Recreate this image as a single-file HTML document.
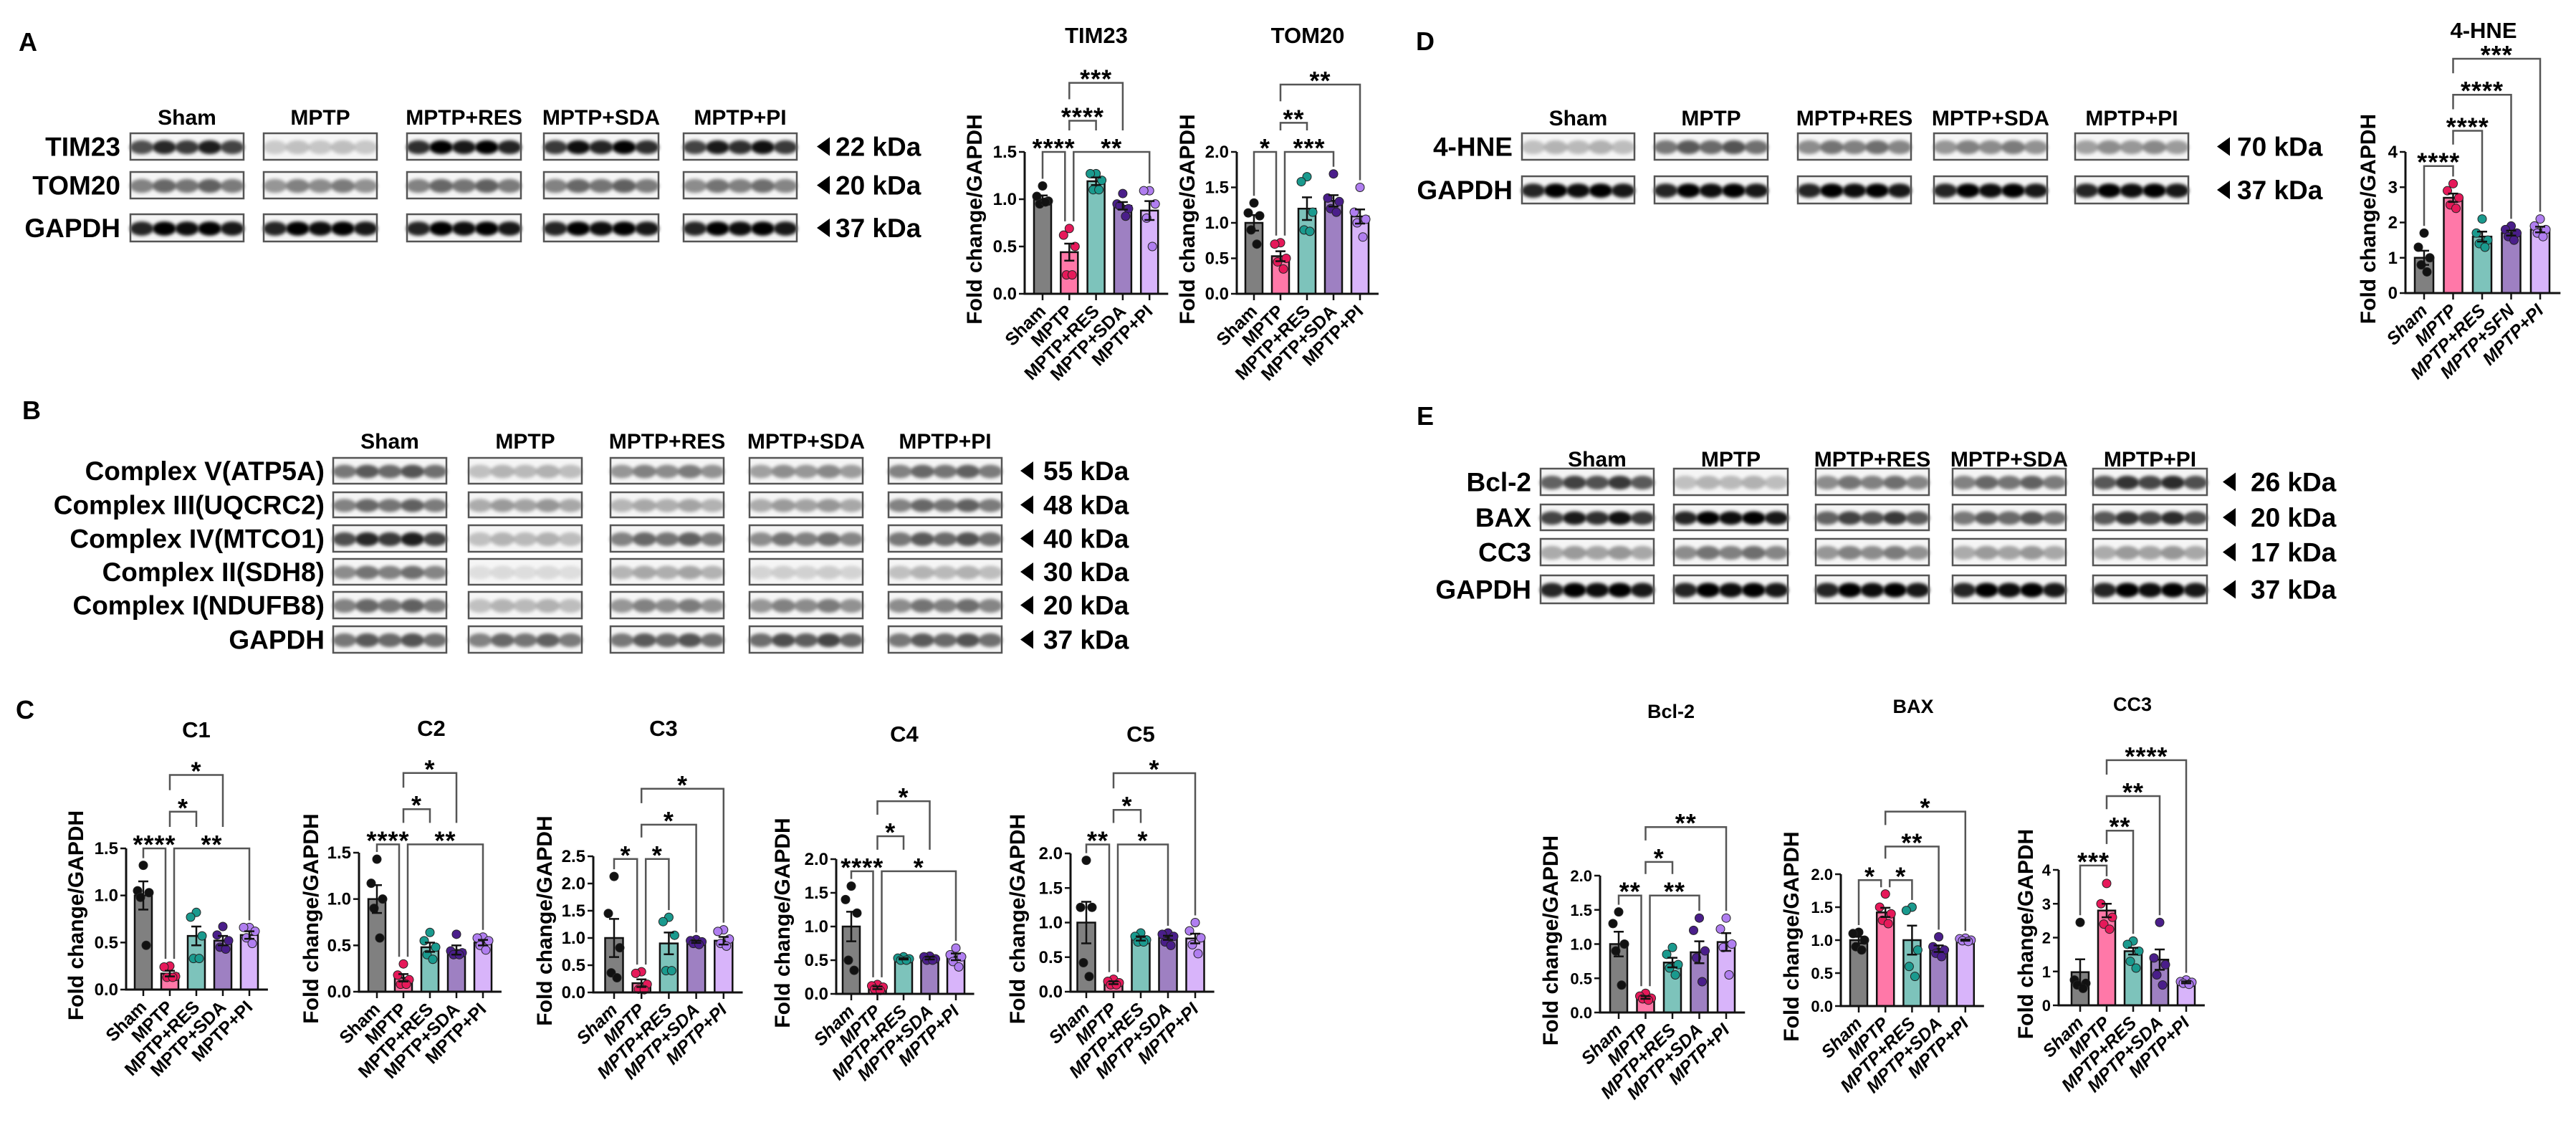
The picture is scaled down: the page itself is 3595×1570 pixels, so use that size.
<!DOCTYPE html>
<html><head><meta charset="utf-8">
<style>
html,body{margin:0;padding:0;background:#fff;}
svg{display:block;font-family:"Liberation Sans",Arial,sans-serif;}
</style></head>
<body>
<svg id="fig" xmlns="http://www.w3.org/2000/svg" width="3595" height="1570" viewBox="0 0 3595 1570">
<defs>
<filter id="blur" x="-50%" y="-50%" width="200%" height="200%"><feGaussianBlur stdDeviation="2.5"/></filter>
</defs>
<g id="layer"></g>
</svg>
<script>
// ===== Chart data =====
const groups = ['Sham','MPTP','MPTP+RES','MPTP+SDA','MPTP+PI'];
const groupsHNE = ['Sham','MPTP','MPTP+RES','MPTP+SFN','MPTP+PI'];

const tim23Means = [1.0,0.44,1.19,0.93,0.88];
const tim23Sems = [0.04,0.09,0.04,0.04,0.1];
const tim23Points = [[1.14,1.03,0.98,0.95,0.97],[0.69,0.62,0.5,0.2,0.2],[1.27,1.27,1.2,1.1,1.1],[1.06,0.95,0.9,0.93,0.82],[1.09,1.09,0.95,0.8,0.5]];
const tim23Ticks = ['0.0','0.5','1.0','1.5'];
const tim23Brackets = [[0,1,1.5,'****'],[1,4,1.5,'**'],[1,2,1.83,'****'],[1,3,2.23,'***']];

const tom20Means = [1.0,0.53,1.2,1.31,1.09];
const tom20Sems = [0.11,0.07,0.16,0.08,0.1];
const tom20Points = [[1.28,1.14,1.1,0.9,0.7],[0.72,0.7,0.5,0.45,0.35],[1.65,1.58,1.15,0.9,0.88],[1.69,1.35,1.3,1.2,1.15],[1.5,1.15,1.05,1.0,0.8]];
const tom20Ticks = ['0.0','0.5','1.0','1.5','2.0'];
const tom20Brackets = [[0,1,2.0,'*'],[1,3,2.0,'***'],[1,2,2.41,'**'],[1,4,2.95,'**']];

const hneMeans = [1.0,2.7,1.6,1.7,1.8];
const hneSems = [0.2,0.12,0.14,0.07,0.08];
const hnePoints = [[1.7,1.3,1.0,0.8,0.6],[3.1,2.9,2.7,2.5,2.4],[2.1,1.7,1.5,1.4,1.3],[1.9,1.8,1.7,1.6,1.5],[2.1,1.9,1.8,1.7,1.6]];
const hneTicks = ['0','1','2','3','4'];
const hneBrackets = [[0,1,3.6,'****'],[1,2,4.6,'****'],[1,3,5.62,'****'],[1,4,6.64,'***']];

const c1Means = [1.0,0.17,0.57,0.52,0.58];
const c1Sems = [0.15,0.03,0.1,0.05,0.04];
const c1Points = [[1.32,1.05,1.03,0.98,0.47],[0.25,0.24,0.14,0.13,0.13],[0.82,0.77,0.57,0.33,0.33],[0.67,0.58,0.52,0.45,0.43],[0.66,0.66,0.62,0.55,0.49]];
const c1Ticks = ['0.0','0.5','1.0','1.5'];
const c1Brackets = [[0,1,1.5,'****'],[1,4,1.5,'**'],[1,2,1.89,'*'],[1,3,2.28,'*']];

const c2Means = [1.0,0.15,0.48,0.45,0.53];
const c2Sems = [0.15,0.04,0.05,0.05,0.03];
const c2Points = [[1.43,1.17,1.0,0.9,0.58],[0.3,0.18,0.13,0.08,0.08],[0.64,0.55,0.48,0.4,0.35],[0.62,0.44,0.42,0.4,0.4],[0.59,0.58,0.55,0.5,0.45]];
const c2Ticks = ['0.0','0.5','1.0','1.5'];
const c2Brackets = [[0,1,1.59,'****'],[1,4,1.59,'**'],[1,2,1.97,'*'],[1,3,2.36,'*']];

const c3Means = [1.0,0.17,0.9,0.93,0.95];
const c3Sems = [0.35,0.07,0.2,0.02,0.07];
const c3Points = [[2.13,1.45,0.82,0.36,0.27],[0.38,0.35,0.15,0.06,0.05],[1.38,1.3,1.05,0.4,0.4],[0.97,0.95,0.93,0.9,0.88],[1.15,1.12,0.98,0.9,0.85]];
const c3Ticks = ['0.0','0.5','1.0','1.5','2.0','2.5'];
const c3Brackets = [[0,1,2.45,'*'],[1,2,2.45,'*'],[1,3,3.08,'*'],[1,4,3.74,'*']];

const c4Means = [1.0,0.09,0.52,0.53,0.55];
const c4Sems = [0.22,0.02,0.01,0.02,0.05];
const c4Points = [[1.6,1.4,1.2,0.5,0.35],[0.14,0.12,0.1,0.07,0.05],[0.55,0.53,0.52,0.5,0.5],[0.56,0.55,0.52,0.5,0.5],[0.68,0.58,0.55,0.48,0.4]];
const c4Ticks = ['0.0','0.5','1.0','1.5','2.0'];
const c4Brackets = [[0,1,1.82,'****'],[1,4,1.82,'*'],[1,2,2.34,'*'],[1,3,2.86,'*']];

const c5Means = [1.0,0.13,0.77,0.78,0.77];
const c5Sems = [0.3,0.02,0.03,0.03,0.07];
const c5Points = [[1.9,1.22,1.22,0.42,0.22],[0.18,0.15,0.13,0.1,0.1],[0.85,0.8,0.75,0.72,0.72],[0.85,0.83,0.8,0.72,0.67],[1.0,0.88,0.78,0.68,0.55]];
const c5Ticks = ['0.0','0.5','1.0','1.5','2.0'];
const c5Brackets = [[0,1,2.13,'**'],[1,3,2.13,'*'],[1,2,2.63,'*'],[1,4,3.16,'*']];

const bcl2Means = [1.0,0.22,0.73,0.88,1.03];
const bcl2Sems = [0.18,0.02,0.07,0.16,0.13];
const bcl2Points = [[1.47,1.3,1.0,0.9,0.4],[0.28,0.24,0.21,0.2,0.18],[0.95,0.85,0.7,0.65,0.55],[1.38,1.2,0.9,0.8,0.45],[1.38,1.22,1.0,0.95,0.55]];
const bcl2Ticks = ['0.0','0.5','1.0','1.5','2.0'];
const bcl2Brackets = [[0,1,1.71,'**'],[1,3,1.71,'**'],[1,2,2.2,'*'],[1,4,2.71,'**']];

const baxMeans = [1.0,1.42,1.0,0.87,1.0];
const baxSems = [0.05,0.07,0.22,0.05,0.01];
const baxPoints = [[1.12,1.1,1.0,0.9,0.85],[1.7,1.5,1.4,1.3,1.25],[1.5,1.45,0.85,0.6,0.45],[1.05,0.9,0.85,0.8,0.75],[1.03,1.02,1.0,0.99,0.98]];
const baxTicks = ['0.0','0.5','1.0','1.5','2.0'];
const baxBrackets = [[0,1,1.91,'*'],[1,2,1.91,'*'],[1,3,2.42,'**'],[1,4,2.95,'*']];

const cc3Means = [0.98,2.8,1.6,1.35,0.68];
const cc3Sems = [0.38,0.2,0.1,0.3,0.03];
const cc3Points = [[2.45,0.75,0.65,0.6,0.5],[3.6,3.0,2.6,2.4,2.25],[1.9,1.8,1.6,1.3,1.1],[2.45,1.4,1.2,0.9,0.6],[0.75,0.7,0.68,0.65,0.62]];
const cc3Ticks = ['0','1','2','3','4'];
const cc3Brackets = [[0,1,4.13,'***'],[1,2,5.16,'**'],[1,3,6.18,'**'],[1,4,7.24,'****']];

// Blot band intensities (per group)
const blotA_TIM23 = [0.8,0.2,0.95,0.9,0.85];
const blotA_TOM20 = [0.55,0.45,0.55,0.55,0.5];
const blotA_GAPDH = [1,1,1,1,1];
const blotD_HNE = [0.25,0.6,0.5,0.45,0.4];
const blotD_GAPDH = [1,1,1,1,1];
const blotB_V = [0.6,0.25,0.45,0.4,0.55];
const blotB_III = [0.55,0.35,0.3,0.35,0.55];
const blotB_IV = [0.8,0.25,0.55,0.5,0.6];
const blotB_II = [0.5,0.1,0.3,0.15,0.25];
const blotB_I = [0.55,0.25,0.45,0.45,0.5];
const blotB_GAPDH = [0.6,0.55,0.6,0.65,0.6];
const blotE_BCL2 = [0.7,0.25,0.5,0.55,0.75];
const blotE_BAX = [0.85,1,0.7,0.6,0.75];
const blotE_CC3 = [0.35,0.5,0.45,0.35,0.35];
const blotE_GAPDH = [1,1,1,1,1];

// ===== Rendering =====
const NS = 'http://www.w3.org/2000/svg';
const root = document.getElementById('layer');
const barFill = ['#808080','#ff78a8','#7dc3bb','#9e80c2','#d8b4fa'];
const ptFill = ['#111111','#e6195a','#1a9a8e','#4a1e8a','#b07ef0'];
const jitter = [0,-8,8,-4,4];

function mk(tag, attrs, parent){
  const e = document.createElementNS(NS, tag);
  for (const k in attrs) e.setAttribute(k, attrs[k]);
  (parent||root).appendChild(e);
  return e;
}
function txt(parent, x, y, s, size, anchor, extra){
  const t = mk('text', Object.assign({x:x, y:y, 'font-size':size, 'font-weight':'bold', 'text-anchor':anchor||'start', fill:'#000'}, extra||{}), parent);
  t.textContent = s;
  return t;
}

function chart(name, L, cats, means, sems, pts, ticks, brackets, title){
  const g = mk('g', {});
  
  
  const ymax = parseFloat(ticks[ticks.length-1]);
  const y = v => L.y0 - v / ymax * (L.y0 - L.yTop);
  const x = i => L.bx0 + i * L.dx;
  const tt = txt(g, L.tx, L.ty + 10, title, L.tfs || 31, 'middle');
  
  
  means.forEach((m, i) => {
    const b = mk('rect', {x: x(i) - L.bw/2, y: y(m), width: L.bw, height: L.y0 - y(m), fill: barFill[i], stroke: '#111', 'stroke-width': 2.5}, g);
    
    
  });
  pts.forEach((arr, i) => {
    arr.forEach((v, k) => {
      const c = mk('circle', {cx: x(i) + jitter[k % 5], cy: y(v), r: 6, fill: ptFill[i], stroke: '#222', 'stroke-width': 1}, g);
      
      
    });
  });
  means.forEach((m, i) => {
    const e = mk('path', {d: `M${x(i)},${y(m - sems[i])}V${y(m + sems[i])}M${x(i)-7},${y(m + sems[i])}H${x(i)+7}M${x(i)-7},${y(m - sems[i])}H${x(i)+7}`, stroke: '#111', 'stroke-width': 2.5, fill: 'none'}, g);
    
    
  });
  const xEnd = x(cats.length - 1) + L.dx * 0.7;
  const ax = mk('path', {d: `M${L.ax},${L.yTop}V${L.y0}H${xEnd}`, stroke: '#111', 'stroke-width': 3, fill: 'none'}, g);
  
  
  ticks.forEach(t => {
    const v = parseFloat(t);
    mk('line', {x1: L.ax - 8, x2: L.ax, y1: y(v), y2: y(v), stroke: '#111', 'stroke-width': 2.5}, g);
    const tl = txt(g, L.ax - 11, y(v) + 8, t, L.tkfs || 24, 'end');
    
    
  });
  cats.forEach((c, i) => {
    mk('line', {x1: x(i), x2: x(i), y1: L.y0, y2: L.y0 + 9, stroke: '#111', 'stroke-width': 2.5}, g);
    const xl = txt(g, x(i) + 6, L.y0 + 26, c, L.xfs || 25, 'end', {transform: `rotate(-45 ${x(i) + 6} ${L.y0 + 26})`, 'font-style': L.italic ? 'italic' : 'normal'});
    
    
  });
  const ym = (L.y0 + L.yTop) / 2 - 5;
  const yt = txt(g, L.ytx, ym, 'Fold change/GAPDH', L.ytfs || 30, 'middle', {transform: `rotate(-90 ${L.ytx} ${ym})`, dy: '10'});
  
  
  const topOf = i => Math.min(y(Math.max(...pts[i])), y(means[i] + sems[i])) - 10;
  brackets.forEach((br, bi) => {
    const [a, b, lev, lab] = br;
    const by = y(lev);
    let xa = x(a), xb = x(b);
    brackets.forEach((o, oi) => { if (oi !== bi && Math.abs(o[2] - lev) < 0.02) { if (o[1] === a) xa += 6; if (o[0] === b) xb -= 6; } });
    const legEnd = gi => {
      let end = topOf(gi);
      brackets.forEach((o, oi) => {
        if (oi !== bi && o[2] < lev && o[0] <= gi && gi <= o[1]) end = Math.min(end, y(o[2]) - 30);
      });
      return Math.max(end, by + 10);
    };
    const p = mk('path', {d: `M${xa},${legEnd(a)}V${by}H${xb}V${legEnd(b)}`, stroke: '#555', 'stroke-width': 2.5, fill: 'none'}, g);
    
    
    const s = txt(g, (xa + xb) / 2, by + 7, lab, 36, 'middle', {'letter-spacing': '1'});
    
    
  });
}

const laneVar = [0.85, 1.05, 0.95, 1.1, 0.9];
function blot(name, boxes, rows, groupY, labelRight, arrowX, kdaX, gnames){
  const g = mk('g', {});
  
  
  boxes.forEach((bx, i) => {
    const gl = txt(g, (bx[0] + bx[1]) / 2, groupY + 11, gnames[i], 30, 'middle');
    
    
  });
  rows.forEach(r => {
    const [lab, y0, y1, inten, kda] = r;
    const cy = (y0 + y1) / 2;
    const rl = txt(g, labelRight, cy + 13, lab, 37, 'end');
    
    
    boxes.forEach((bx, i) => {
      const w = bx[1] - bx[0], h = y1 - y0;
      mk('rect', {x: bx[0], y: y0, width: w, height: h, fill: '#f5f5f5'}, g);
      for (let j = 0; j < 5; j++) {
        const lx = bx[0] + (j + 0.5) * w / 5;
        const band = mk('ellipse', {cx: lx, cy: cy + 1, rx: w / 9.5, ry: h * 0.26, fill: '#000', opacity: Math.min(1, inten[i] * laneVar[j]), filter: 'url(#blur)'}, g);
        
        
      }
      const fr = mk('rect', {x: bx[0], y: y0, width: w, height: h, fill: 'none', stroke: '#555', 'stroke-width': 2.5}, g);
      
      
    });
    const ar = mk('path', {d: `M${arrowX},${cy}L${arrowX + 18},${cy - 13}V${cy + 13}Z`, fill: '#000'}, g);
    
    
    const kt = txt(g, kdaX, cy + 13, kda, 37, 'start');
    
    
  });
}

[['A',39,58],['B',44,572],['C',35,990],['D',1989,57],['E',1989,580]].forEach(p => {
  const t = txt(root, p[1], p[2] + 13, p[0], 36, 'middle');
  
  
});

blot('panel-a', [[182,340],[368,526],[568,727],[759,919],[954,1112]],
  [['TIM23',186,223,blotA_TIM23,'22 kDa'],['TOM20',240,277,blotA_TOM20,'20 kDa'],['GAPDH',299,337,blotA_GAPDH,'37 kDa']],
  163, 168, 1140, 1166, groups);
blot('panel-d', [[2124,2281],[2309,2467],[2509,2667],[2699,2857],[2896,3054]],
  [['4-HNE',186,223,blotD_HNE,'70 kDa'],['GAPDH',246,284,blotD_GAPDH,'37 kDa']],
  164, 2111, 3094, 3122, groups);
blot('panel-b', [[465,623],[654,812],[852,1010],[1046,1204],[1240,1398]],
  [['Complex V(ATP5A)',639,675,blotB_V,'55 kDa'],['Complex III(UQCRC2)',687,722,blotB_III,'48 kDa'],['Complex IV(MTCO1)',733,770,blotB_IV,'40 kDa'],['Complex II(SDH8)',780,816,blotB_II,'30 kDa'],['Complex I(NDUFB8)',826,863,blotB_I,'20 kDa'],['GAPDH',874,911,blotB_GAPDH,'37 kDa']],
  615, 453, 1424, 1456, groups);
blot('panel-e', [[2150,2308],[2336,2495],[2534,2692],[2725,2883],[2921,3080]],
  [['Bcl-2',654,691,blotE_BCL2,'26 kDa'],['BAX',704,740,blotE_BAX,'20 kDa'],['CC3',752,789,blotE_CC3,'17 kDa'],['GAPDH',803,842,blotE_GAPDH,'37 kDa']],
  640, 2137, 3102, 3141, groups);

chart('tim23', {ax:1430,y0:410,yTop:212,bx0:1455,dx:37.3,bw:24,tx:1530,ty:50,ytx:1360}, groups, tim23Means, tim23Sems, tim23Points, tim23Ticks, tim23Brackets, 'TIM23');
chart('tom20', {ax:1726,y0:410,yTop:212,bx0:1750,dx:37,bw:24,tx:1825,ty:50,ytx:1657}, groups, tom20Means, tom20Sems, tom20Points, tom20Ticks, tom20Brackets, 'TOM20');
chart('hne', {ax:3357,y0:409,yTop:212,bx0:3383,dx:40.5,bw:26,tx:3466,ty:43,ytx:3305,italic:true}, groupsHNE, hneMeans, hneSems, hnePoints, hneTicks, hneBrackets, '4-HNE');
chart('c1', {ax:176,y0:1381,yTop:1184,bx0:200,dx:37,bw:24,tx:274,ty:1019,ytx:106}, groups, c1Means, c1Sems, c1Points, c1Ticks, c1Brackets, 'C1');
chart('c2', {ax:501,y0:1384,yTop:1190,bx0:526,dx:37,bw:24,tx:602,ty:1017,ytx:434}, groups, c2Means, c2Sems, c2Points, c2Ticks, c2Brackets, 'C2');
chart('c3', {ax:828,y0:1385,yTop:1195,bx0:857,dx:38.2,bw:25,tx:926,ty:1017,ytx:760,italic:true}, groups, c3Means, c3Sems, c3Points, c3Ticks, c3Brackets, 'C3');
chart('c4', {ax:1167,y0:1387,yTop:1199,bx0:1188,dx:36.5,bw:24,tx:1262,ty:1025,ytx:1092,italic:true}, groups, c4Means, c4Sems, c4Points, c4Ticks, c4Brackets, 'C4');
chart('c5', {ax:1494,y0:1384,yTop:1191,bx0:1516,dx:38,bw:25,tx:1592,ty:1025,ytx:1420,italic:true}, groups, c5Means, c5Sems, c5Points, c5Ticks, c5Brackets, 'C5');
chart('bcl2', {ax:2233,y0:1413,yTop:1222,bx0:2259,dx:37.5,bw:24,tx:2332,ty:992,ytx:2164,tfs:27,tkfs:22,italic:true}, groups, bcl2Means, bcl2Sems, bcl2Points, bcl2Ticks, bcl2Brackets, 'Bcl-2');
chart('bax', {ax:2569,y0:1404,yTop:1220,bx0:2594,dx:37.2,bw:24,tx:2670,ty:985,ytx:2500,tfs:27,tkfs:22,italic:true}, groups, baxMeans, baxSems, baxPoints, baxTicks, baxBrackets, 'BAX');
chart('cc3', {ax:2873,y0:1403,yTop:1214,bx0:2903,dx:37,bw:24,tx:2976,ty:982,ytx:2827,tfs:27,tkfs:22,italic:true}, groups, cc3Means, cc3Sems, cc3Points, cc3Ticks, cc3Brackets, 'CC3');
</script>
</body></html>
